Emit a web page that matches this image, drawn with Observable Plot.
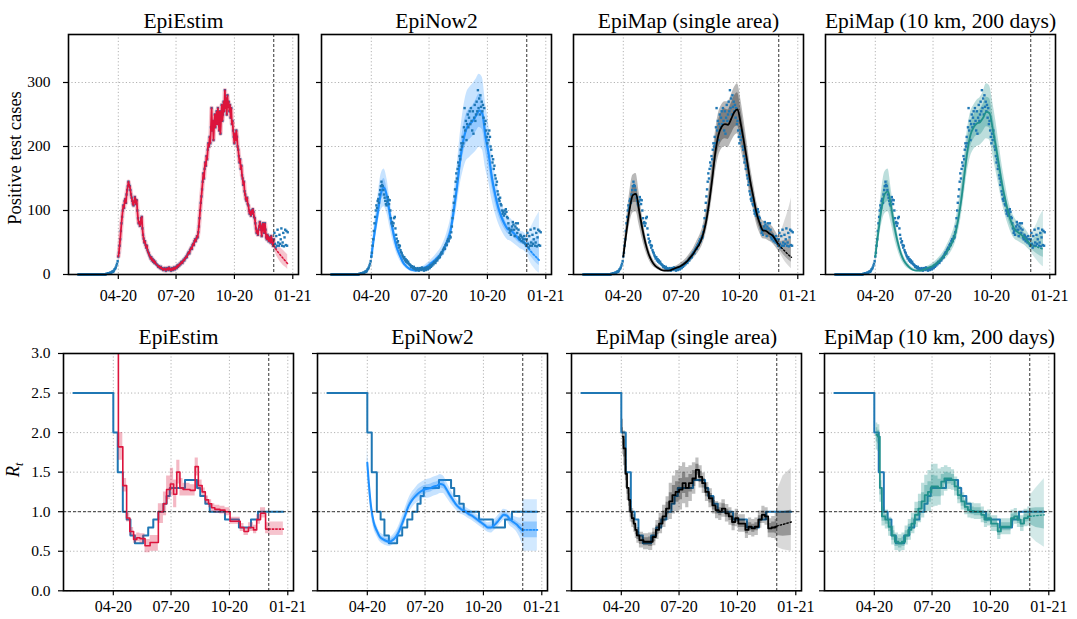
<!DOCTYPE html>
<html><head><meta charset="utf-8">
<script src="https://cdn.jsdelivr.net/npm/d3@7"></script>
<script src="https://cdn.jsdelivr.net/npm/@observablehq/plot@0.6"></script>
<style>
html,body{margin:0;padding:0;background:#fff;}
#chart{position:relative;width:1077px;height:619px;overflow:hidden;font-family:"Liberation Serif","Times New Roman",serif;}
#chart svg{position:absolute;overflow:visible;}
#chart svg text{font-family:"Liberation Serif","Times New Roman",serif !important;font-variant:normal !important;}
.ylab{position:absolute;white-space:nowrap;transform:translate(-50%,-50%) rotate(-90deg);font-family:"Liberation Serif","Times New Roman",serif;font-size:18.5px;line-height:20px;color:#000;}
.ylab sub{font-size:12px;}
</style></head><body><div id="chart">
<div class="ylab" style="left:15px;top:158px;">Positive test cases</div>
<div class="ylab" style="left:16px;top:470px;"><i>R</i><sub><i>t</i></sub></div>
</div>
<script>
// ---------- data (days counted from 2020-04-01) ----------
const titles = ["EpiEstim", "EpiNow2", "EpiMap (single area)", "EpiMap (10 km, 200 days)"];
const xTickDays = [0, 91, 183, 275];
const caseTicks = [0, 100, 200, 300];
const rtTicks = [0, 0.5, 1.0, 1.5, 2.0, 2.5, 3.0];
const forecastStartDay = 245;

// observed daily positive test cases, from day -63 (2020-01-29) to day 267
const casesStartDay = -63;
const observedCases = [
 0,0,0,0,0,0,0,0,0,0,0,0,0,0,0,0,0,0,0,0,0,0,0,0,0,0,0,0,0,0,0,0,0,0,0,0,0,0,0,0,0,0,0,0,
 1,1,1,2,1,2,3,2,3,4,5,4,6,8,9,11,14,17,21,
 28,34,45,55,68,80,90,100,108,104,115,118,112,125,132,138,145,140,138,132,125,120,115,110,108,114,121,117,110,116,
 100,88,80,82,76,80,88,90,72,62,56,50,52,46,42,45,38,35,33,30,28,25,27,22,24,20,22,18,20,17,16,
 15,14,12,13,11,10,12,9,10,8,7,9,10,8,6,8,10,9,7,11,8,9,6,8,10,7,9,11,8,10,
 12,10,14,12,15,14,17,16,19,20,18,21,23,22,25,26,28,27,31,33,35,33,38,40,42,40,46,48,46,52,55,
 52,56,60,58,66,75,88,100,112,122,133,145,158,150,165,175,170,185,180,195,205,200,215,205,230,260,225,240,210,235,250,
 230,245,255,235,260,240,225,255,220,245,265,240,250,270,255,288,260,275,250,280,262,270,255,265,245,260,235,240,225,215,
 205,220,210,225,215,200,195,185,175,180,165,170,155,150,140,145,130,125,118,115,120,110,108,100,95,98,92,100,95,102,98,
 90,88,80,72,65,68,62,70,75,82,78,70,60,75,80,72,65,80,70,58,55,62,60,52,58,55,50,60,55,48,
 45,55,65,48,42,60,45,70,50,45,62,48,55,72,45,50,65,44,58,70,46,68,45,66
];

// EpiEstim case projection [day, lo, mid, hi]
const epiestimCaseProj = [[245,40,45,50],[250,28,37,46],[255,20,31,42],[260,14,25,38],[265,10,19,33],[267,8,17,31]];

// model fits of cases, every 5 days from day 0 to 245
const epinow2Mid  = [27,64,95,126,136,120,90,64,43,30,19,13,9,7,6,7,9,11,14,18,22,27,32,41,53,69,100,136,178,209,228,235,240,248,256,251,215,188,152,126,105,90,79,71,69,64,58,53,51,45];
const epinow2Hi90 = [35,80,118,155,165,148,112,80,55,39,26,18,13,10,9,10,12,15,19,24,29,35,42,53,68,88,125,168,218,258,283,292,298,305,313,308,268,235,190,158,132,113,100,90,87,81,74,68,66,60];
const epinow2Lo90 = [20,50,75,100,106,94,70,49,33,22,14,9,6,4,4,5,6,8,10,13,16,20,24,31,40,53,78,106,140,163,178,183,188,193,199,195,166,145,117,97,81,69,60,54,52,48,44,40,38,33];
const epinow2Hi50 = [30,71,105,139,150,132,99,71,48,33,21,14,10,8,7,8,10,12,16,20,24,30,35,45,58,76,110,150,196,230,251,259,264,273,282,276,237,207,167,139,116,99,87,78,76,70,64,58,56,50];
const epinow2Lo50 = [24,57,85,113,122,108,81,57,38,27,17,12,8,6,5,6,8,10,12,16,20,24,29,37,48,62,90,122,160,188,205,211,216,223,230,226,193,169,137,113,94,81,71,64,62,58,52,48,46,40];

const epimapMid  = [28,67,102,124,126,100,72,49,32,21,14,10,7,6,6,7,9,11,13,16,20,26,32,40,48,60,80,110,148,190,218,231,235,234,243,254,258,236,208,178,146,121,96,80,69,68,64,61,54,46];
const epimapHi90 = [36,85,128,155,158,128,92,63,42,28,19,14,10,9,9,10,12,14,17,21,26,33,40,50,60,74,98,132,175,222,252,265,270,270,280,292,298,275,243,208,172,143,115,96,84,82,78,75,67,58];
const epimapLo90 = [21,50,78,96,98,77,55,37,24,15,10,7,5,4,4,5,6,8,9,11,15,19,24,30,37,47,63,88,120,158,184,196,200,198,207,216,220,199,175,150,122,101,79,65,56,55,52,49,43,36];
const epimapHi50 = [31,74,112,137,139,110,79,54,35,23,15,11,8,7,7,8,10,12,14,18,22,29,35,44,53,66,88,121,163,209,240,254,259,257,267,279,284,260,229,196,161,133,106,88,76,75,70,67,59,51];
const epimapLo50 = [25,60,92,112,113,90,65,44,29,19,13,9,6,5,5,6,8,10,12,14,18,23,29,36,43,54,72,99,133,171,196,208,212,211,219,229,232,212,187,160,131,109,86,72,62,61,58,55,49,41];

const epimap10Mid  = [28,68,104,126,130,106,76,52,34,22,15,10,7,6,6,7,9,11,13,16,20,25,31,39,48,60,82,113,152,192,218,230,236,238,245,254,252,228,200,170,140,116,95,80,70,66,62,58,52,46];
const epimap10Hi90 = [37,88,132,160,165,134,96,66,43,29,20,14,10,9,9,10,12,14,17,21,26,32,40,50,61,76,102,138,180,225,253,264,272,276,285,298,295,270,240,205,170,142,116,99,88,82,78,73,66,58];
const epimap10Lo90 = [21,50,78,95,98,80,57,39,25,16,10,7,5,4,4,5,6,8,9,11,15,19,23,29,36,46,63,88,123,160,184,195,200,202,207,212,210,188,162,137,112,92,76,63,55,52,49,46,41,36];
const epimap10Hi50 = [32,77,117,142,147,119,85,58,38,25,17,12,8,7,7,8,10,12,15,18,23,28,35,44,54,67,91,125,167,210,237,249,255,258,266,277,275,250,220,188,155,128,105,89,78,74,69,65,58,51];
const epimap10Lo50 = [25,59,91,110,114,93,67,46,30,19,13,9,6,5,5,6,8,10,11,14,17,22,27,34,42,53,72,100,136,174,199,211,217,218,224,231,229,206,180,152,125,104,85,71,62,58,55,51,46,41];

// case projections: [day, lo90, lo50, mid, hi50, hi90]
const epinow2CaseProj  = [[245,33,40,45,50,60],[250,20,30,38,52,70],[255,12,24,32,55,80],[260,6,18,27,58,90],[265,2,14,22,60,98]];
const epimapCaseProj   = [[245,36,41,46,51,58],[250,28,34,41,52,70],[255,20,28,36,53,85],[260,14,23,31,54,100],[265,9,19,27,56,120]];
const epimap10CaseProj = [[245,36,41,46,51,58],[250,28,36,44,55,70],[255,22,32,43,60,80],[260,16,29,41,64,92],[265,12,27,40,68,100]];

// true reproduction number: [start day, value]
const trueRt = [[-63,2.5],[0,2.0],[7,1.5],[15,1.0],[21,0.9],[27,0.7],[34,0.6],[47,0.7],[55,0.8],[63,0.9],[71,1.0],[79,1.1],[84,1.2],[89,1.3],[113,1.4],[132,1.3],[137,1.2],[145,1.1],[152,1.0],[176,0.9],[198,0.8],[217,0.9],[228,1.0],[268,1.0]];

// EpiEstim Rt: [start day, lo, mid, hi]
const epiestimRt = [[2,4.0,4.5,5.0],[8,1.65,1.82,2.0],[15,1.25,1.33,1.42],[21,0.87,0.92,0.98],[26,0.70,0.75,0.80],[32,0.60,0.65,0.71],[37,0.62,0.67,0.73],[42,0.60,0.66,0.72],[50,0.48,0.57,0.65],[58,0.50,0.61,0.70],[71,0.85,1.0,1.10],[79,0.95,1.10,1.25],[84,1.15,1.28,1.45],[90,1.20,1.35,1.55],[95,1.05,1.22,1.40],[100,1.35,1.50,1.65],[105,1.20,1.30,1.42],[110,1.20,1.28,1.36],[121,1.20,1.27,1.34],[129,1.45,1.57,1.68],[134,1.27,1.33,1.40],[140,1.20,1.25,1.30],[145,1.10,1.15,1.20],[150,1.05,1.10,1.15],[155,1.00,1.05,1.10],[160,0.98,1.03,1.08],[168,0.97,1.02,1.07],[176,0.95,1.00,1.05],[184,0.84,0.88,0.93],[192,0.84,0.88,0.93],[200,0.75,0.80,0.85],[206,0.70,0.75,0.80],[213,0.75,0.80,0.86],[221,0.72,0.77,0.83],[226,0.84,0.90,0.96],[232,0.92,0.98,1.05],[240,0.72,0.78,0.86],[245,0.72,0.78,0.86]];
const epiestimRtProj = [[245,0.70,0.78,0.87],[268,0.70,0.78,0.87]];

// EpiNow2 Rt, every 5 days from day 0 to 245
const epinow2RtMid  = [1.62,1.13,0.87,0.76,0.68,0.65,0.63,0.62,0.64,0.68,0.75,0.85,0.96,1.07,1.14,1.19,1.23,1.26,1.28,1.29,1.30,1.32,1.33,1.35,1.34,1.28,1.21,1.15,1.09,1.05,1.02,1.00,0.97,0.95,0.92,0.89,0.86,0.83,0.80,0.80,0.83,0.87,0.92,0.96,0.95,0.90,0.87,0.84,0.80,0.76];
const epinow2RtHi90 = [1.80,1.25,0.95,0.83,0.74,0.71,0.69,0.68,0.70,0.75,0.83,0.94,1.05,1.16,1.24,1.29,1.34,1.37,1.39,1.41,1.42,1.44,1.45,1.47,1.45,1.38,1.30,1.23,1.16,1.12,1.08,1.06,1.03,1.01,0.98,0.95,0.92,0.89,0.86,0.87,0.90,0.94,0.99,1.03,1.02,0.98,0.95,0.93,0.92,0.95];
const epinow2RtLo90 = [1.45,1.02,0.79,0.69,0.62,0.59,0.57,0.56,0.58,0.61,0.67,0.76,0.87,0.98,1.04,1.09,1.12,1.15,1.17,1.17,1.18,1.20,1.21,1.23,1.23,1.18,1.12,1.07,1.02,0.98,0.96,0.94,0.91,0.89,0.86,0.83,0.80,0.77,0.74,0.73,0.76,0.80,0.85,0.89,0.88,0.82,0.79,0.75,0.68,0.58];
const epinow2RtHi50 = [1.70,1.18,0.91,0.80,0.71,0.68,0.66,0.65,0.67,0.71,0.79,0.89,1.00,1.11,1.18,1.23,1.28,1.31,1.33,1.34,1.35,1.37,1.38,1.40,1.39,1.32,1.25,1.19,1.12,1.08,1.05,1.03,1.00,0.98,0.95,0.92,0.89,0.86,0.83,0.83,0.86,0.90,0.95,0.99,0.98,0.94,0.91,0.88,0.85,0.83];
const epinow2RtLo50 = [1.54,1.08,0.83,0.72,0.65,0.62,0.60,0.59,0.61,0.65,0.71,0.81,0.92,1.03,1.10,1.15,1.18,1.21,1.23,1.24,1.25,1.27,1.28,1.30,1.29,1.24,1.17,1.11,1.06,1.02,0.99,0.97,0.94,0.92,0.89,0.86,0.83,0.80,0.77,0.77,0.80,0.84,0.89,0.93,0.92,0.86,0.83,0.80,0.75,0.69];
const epinow2RtProj = [[245,0.50,0.67,0.77,0.87,1.15],[268,0.50,0.67,0.77,0.87,1.15]];

// EpiMap Rt: [day, lo90, lo50, mid, hi50, hi90]
const epimapRt = [[2,1.72,1.84,1.95,2.06,2.17],[5,1.58,1.69,1.80,1.91,2.02],[8,1.30,1.39,1.48,1.57,1.66],[10,1.14,1.22,1.30,1.38,1.46],[13,1.00,1.07,1.15,1.23,1.30],[15,0.87,0.93,1.00,1.07,1.13],[18,0.80,0.86,0.92,0.98,1.04],[21,0.74,0.79,0.85,0.91,0.96],[23,0.66,0.71,0.77,0.83,0.88],[26,0.60,0.65,0.70,0.75,0.80],[31,0.54,0.59,0.64,0.69,0.74],[39,0.52,0.57,0.62,0.67,0.72],[47,0.51,0.56,0.62,0.68,0.73],[52,0.57,0.62,0.68,0.74,0.79],[57,0.65,0.71,0.77,0.83,0.89],[62,0.72,0.78,0.85,0.92,0.98],[68,0.80,0.87,0.94,1.01,1.08],[73,0.89,0.96,1.04,1.12,1.19],[78,0.90,1.02,1.13,1.24,1.36],[83,0.97,1.09,1.21,1.33,1.45],[88,1.00,1.12,1.25,1.38,1.52],[94,1.02,1.15,1.28,1.42,1.57],[99,1.10,1.23,1.36,1.50,1.62],[104,1.05,1.18,1.30,1.43,1.56],[109,1.13,1.25,1.36,1.47,1.58],[115,1.22,1.32,1.42,1.52,1.62],[120,1.38,1.46,1.53,1.60,1.68],[125,1.30,1.37,1.44,1.51,1.58],[130,1.23,1.30,1.36,1.42,1.49],[135,1.13,1.19,1.25,1.31,1.37],[141,1.05,1.11,1.17,1.23,1.29],[146,0.97,1.02,1.08,1.14,1.19],[151,0.91,0.97,1.02,1.07,1.13],[156,0.89,0.95,1.00,1.05,1.11],[161,0.93,0.98,1.04,1.10,1.15],[167,0.87,0.93,0.98,1.03,1.09],[172,0.83,0.89,0.94,0.99,1.05],[177,0.76,0.82,0.87,0.92,0.98],[182,0.81,0.86,0.92,0.98,1.03],[187,0.74,0.80,0.85,0.90,0.96],[193,0.74,0.80,0.85,0.90,0.96],[198,0.66,0.72,0.77,0.82,0.88],[203,0.70,0.76,0.81,0.86,0.92],[208,0.68,0.74,0.79,0.84,0.90],[213,0.70,0.76,0.81,0.86,0.92],[219,0.79,0.85,0.90,0.95,1.01],[224,0.85,0.91,0.96,1.01,1.07],[229,0.83,0.89,0.94,0.99,1.05],[234,0.67,0.73,0.79,0.85,0.91],[240,0.66,0.73,0.80,0.87,0.94],[245,0.64,0.72,0.81,0.90,0.98]];
const epimapRtProj = [[245,0.55,0.70,0.82,0.98,1.25],[255,0.52,0.69,0.84,1.00,1.45],[268,0.50,0.70,0.87,1.02,1.55]];

const epimap10Rt = [[3,1.78,1.88,1.97,2.06,2.12],[8,1.76,1.86,1.95,2.03,2.10],[9.5,1.12,1.21,1.30,1.39,1.47],[14.5,0.82,0.88,0.94,1.00,1.06],[20,0.78,0.84,0.90,0.96,1.02],[25,0.69,0.75,0.81,0.87,0.93],[30,0.58,0.64,0.70,0.76,0.82],[35,0.51,0.56,0.62,0.68,0.73],[41,0.49,0.54,0.60,0.66,0.71],[46,0.51,0.56,0.62,0.68,0.73],[51,0.58,0.64,0.70,0.76,0.82],[56,0.64,0.70,0.77,0.84,0.90],[61,0.72,0.78,0.85,0.92,0.98],[67,0.80,0.88,0.96,1.04,1.12],[72,0.86,0.95,1.04,1.13,1.22],[77,0.92,1.02,1.13,1.24,1.36],[82,0.98,1.09,1.21,1.33,1.46],[87,1.00,1.12,1.25,1.38,1.52],[93,1.06,1.19,1.32,1.46,1.60],[98,1.07,1.19,1.32,1.45,1.60],[103,1.08,1.19,1.30,1.41,1.54],[108,1.20,1.29,1.38,1.47,1.56],[113,1.26,1.34,1.42,1.50,1.58],[119,1.28,1.35,1.42,1.49,1.56],[124,1.27,1.33,1.40,1.47,1.53],[129,1.20,1.26,1.32,1.38,1.44],[134,1.10,1.15,1.21,1.27,1.32],[140,1.02,1.07,1.13,1.19,1.24],[145,0.96,1.01,1.06,1.11,1.16],[150,0.92,0.97,1.02,1.07,1.12],[155,0.91,0.96,1.01,1.06,1.11],[160,0.90,0.95,1.00,1.05,1.10],[166,0.90,0.95,1.00,1.05,1.10],[171,0.86,0.91,0.96,1.01,1.06],[176,0.80,0.85,0.90,0.95,1.00],[181,0.82,0.87,0.92,0.97,1.02],[187,0.75,0.80,0.85,0.90,0.95],[192,0.75,0.80,0.85,0.90,0.95],[197,0.65,0.70,0.75,0.80,0.85],[202,0.71,0.76,0.81,0.86,0.91],[207,0.71,0.76,0.81,0.86,0.91],[213,0.71,0.76,0.81,0.86,0.91],[218,0.82,0.87,0.92,0.97,1.02],[223,0.84,0.89,0.94,0.99,1.04],[228,0.80,0.85,0.90,0.95,1.00],[233,0.75,0.80,0.85,0.90,0.95],[239,0.81,0.87,0.92,0.97,1.03],[245,0.82,0.88,0.94,1.00,1.06]];
const epimap10RtProj = [[245,0.70,0.84,0.94,1.04,1.20],[255,0.62,0.80,0.95,1.05,1.30],[268,0.55,0.78,0.96,1.05,1.42]];

// ---------- helpers ----------
const FONT = '"Liberation Serif","Times New Roman",serif';
const C_OBS = "#1f77b4", C_RED = "#dc143c", C_NOW = "#1e90ff", C_MAP = "#000000", C_TEAL = "#21918c";
const T0 = Date.UTC(2020, 3, 1);
const day = d => new Date(T0 + d * 864e5);
const xTicks = xTickDays.map(day);
const xDomain = [day(-78.5), day(284)];
const fmtX = d3.utcFormat("%m-%y");

const obsRows = observedCases.map((v, i) => ({date: day(casesStartDay + i), d: casesStartDay + i, mid: v}));
const gridRows = (mid, lo90, lo50, hi50, hi90) => mid.map((m, i) => ({date: day(i * 5), mid: m, lo90: lo90[i], lo50: lo50[i], hi50: hi50[i], hi90: hi90[i]}));
const tupRows = t => t.map(([d, lo90, lo50, mid, hi50, hi90]) => ({date: day(d), lo90, lo50, mid, hi50, hi90}));
const tup3Rows = t => t.map(([d, lo, mid, hi]) => ({date: day(d), lo, mid, hi}));

function bands(rows, color, o90, o50, curve) {
  return [
    Plot.areaY(rows, {x: "date", y1: "lo90", y2: "hi90", fill: color, fillOpacity: o90, curve, clip: true}),
    Plot.areaY(rows, {x: "date", y1: "lo50", y2: "hi50", fill: color, fillOpacity: o50, curve, clip: true})
  ];
}
function midLine(rows, color, w, curve, dash) {
  return Plot.line(rows, {x: "date", y: "mid", stroke: color, strokeWidth: w, curve, strokeDasharray: dash, clip: true});
}

const W = 230;
const chart = document.getElementById("chart");
function panel({left, top, h, yDomain, yTicks, yFmt, showY, title, marks, titleDy, xPad, yPad, extra = []}) {
  const mL = 62, mR = 8, mT = 40, mB = 34;
  const svg = Plot.plot({
    width: mL + W + mR, height: mT + h + mB,
    marginLeft: mL, marginRight: mR, marginTop: mT, marginBottom: mB,
    style: {fontFamily: FONT, fontSize: "15px", color: "black", background: "transparent", overflow: "visible"},
    x: {type: "utc", domain: xDomain},
    y: {domain: yDomain},
    marks: [
      Plot.gridX(xTicks, {stroke: "#b3b3b3", strokeOpacity: 1, strokeDasharray: "1.2,2.2", strokeWidth: 1}),
      Plot.gridY(yTicks, {stroke: "#b3b3b3", strokeOpacity: 1, strokeDasharray: "1.2,2.2", strokeWidth: 1}),
      ...marks,
      Plot.ruleX([day(forecastStartDay)], {stroke: "#333", strokeDasharray: "3,2", strokeWidth: 1}),
      ...extra,
      Plot.axisX(xTicks, {tickFormat: fmtX, tickSize: 5, tickPadding: xPad, strokeWidth: 1.2, fontSize: 16, fontFamily: FONT, fill: "black", label: null}),
      Plot.axisY(yTicks, {tickFormat: showY ? yFmt : () => "", tickSize: 5, tickPadding: yPad, strokeWidth: 1.2, fontSize: 15.5, fontFamily: FONT, fill: "black", label: null}),
      Plot.frame({stroke: "black", strokeWidth: 1.6}),
      Plot.text([title], {text: d => d, frameAnchor: "top", lineAnchor: "bottom", dy: titleDy, fontSize: 21.5, fontFamily: FONT, fill: "black"})
    ]
  });
  svg.style.left = (left - mL) + "px";
  svg.style.top = (top - mT) + "px";
  chart.appendChild(svg);
}

// ---------- top row: cases ----------
const topLefts = [68, 320.5, 572.7, 825];
const dots = () => Plot.dot(obsRows, {x: "date", y: "mid", symbol: "square", r: 1.35, fill: C_OBS, stroke: "none"});
const redRows = obsRows.filter(r => r.d >= 0 && r.d <= forecastStartDay);
const topMarks = [
  [
    Plot.line(redRows, {x: "date", y: "mid", stroke: C_RED, strokeOpacity: 0.25, strokeWidth: 4.5}),
    Plot.areaY(tup3Rows(epiestimCaseProj), {x: "date", y1: "lo", y2: "hi", fill: C_RED, fillOpacity: 0.25}),
    dots(),
    Plot.line(redRows, {x: "date", y: "mid", stroke: C_RED, strokeWidth: 1.8}),
    midLine(tup3Rows(epiestimCaseProj), C_RED, 1.5, "linear", "1.5,2")
  ],
  [
    ...bands(gridRows(epinow2Mid, epinow2Lo90, epinow2Lo50, epinow2Hi50, epinow2Hi90), C_NOW, 0.25, 0.3, "monotone-x"),
    ...bands(tupRows(epinow2CaseProj), C_NOW, 0.18, 0.25, "monotone-x"),
    midLine(gridRows(epinow2Mid, epinow2Lo90, epinow2Lo50, epinow2Hi50, epinow2Hi90), C_NOW, 2.2, "monotone-x"),
    midLine(tupRows(epinow2CaseProj), C_NOW, 1.8, "monotone-x", "1.5,2"),
    dots()
  ],
  [
    ...bands(gridRows(epimapMid, epimapLo90, epimapLo50, epimapHi50, epimapHi90), C_MAP, 0.28, 0.3, "monotone-x"),
    ...bands(tupRows(epimapCaseProj), C_MAP, 0.15, 0.25, "monotone-x"),
    dots(),
    midLine(gridRows(epimapMid, epimapLo90, epimapLo50, epimapHi50, epimapHi90), C_MAP, 1.8, "monotone-x"),
    midLine(tupRows(epimapCaseProj), C_MAP, 1.4, "monotone-x", "1.5,2")
  ],
  [
    ...bands(gridRows(epimap10Mid, epimap10Lo90, epimap10Lo50, epimap10Hi50, epimap10Hi90), C_TEAL, 0.3, 0.35, "monotone-x"),
    ...bands(tupRows(epimap10CaseProj), C_TEAL, 0.2, 0.3, "monotone-x"),
    dots(),
    midLine(gridRows(epimap10Mid, epimap10Lo90, epimap10Lo50, epimap10Hi50, epimap10Hi90), C_TEAL, 1.8, "monotone-x"),
    midLine(tupRows(epimap10CaseProj), C_TEAL, 1.4, "monotone-x", "1.5,2")
  ]
];
topMarks.forEach((marks, i) => panel({
  left: topLefts[i], top: 34, h: 240, yDomain: [0, 375], yTicks: caseTicks, yFmt: d3.format("d"),
  showY: i === 0, title: titles[i], marks, titleDy: -7, xPad: 10, yPad: 13
}));

// ---------- bottom row: Rt ----------
const botLefts = [63.3, 316.7, 571.3, 824];
const trueRows = trueRt.map(([d, v]) => ({date: day(d), mid: v}));
const trueLine = () => Plot.line(trueRows, {x: "date", y: "mid", curve: "step-after", stroke: C_OBS, strokeWidth: 2});
const oneRule = Plot.ruleY([1], {stroke: "#222", strokeDasharray: "3,2", strokeWidth: 0.9});
const botMarks = [
  [
    trueLine(),
    Plot.areaY(tup3Rows(epiestimRt), {x: "date", y1: "lo", y2: "hi", fill: C_RED, fillOpacity: 0.3, curve: "step-after", clip: true}),
    Plot.areaY(tup3Rows(epiestimRtProj), {x: "date", y1: "lo", y2: "hi", fill: C_RED, fillOpacity: 0.25}),
    midLine(tup3Rows(epiestimRt), C_RED, 1.6, "step-after"),
    midLine(tup3Rows(epiestimRtProj), C_RED, 1.6, "linear", "1.5,2")
  ],
  [
    trueLine(),
    ...bands(gridRows(epinow2RtMid, epinow2RtLo90, epinow2RtLo50, epinow2RtHi50, epinow2RtHi90), C_NOW, 0.25, 0.3, "monotone-x"),
    ...bands(tupRows(epinow2RtProj), C_NOW, 0.2, 0.35, "linear"),
    midLine(gridRows(epinow2RtMid, epinow2RtLo90, epinow2RtLo50, epinow2RtHi50, epinow2RtHi90), C_NOW, 2, "monotone-x"),
    midLine(tupRows(epinow2RtProj), C_NOW, 1.8, "linear", "1.5,2")
  ],
  [
    trueLine(),
    ...bands(tupRows(epimapRt), C_MAP, 0.25, 0.3, "step"),
    ...bands(tupRows(epimapRtProj), C_MAP, 0.15, 0.3, "linear"),
    midLine(tupRows(epimapRt), C_MAP, 1.8, "step"),
    midLine(tupRows(epimapRtProj), C_MAP, 1.4, "linear", "1.5,2")
  ],
  [
    trueLine(),
    ...bands(tupRows(epimap10Rt), C_TEAL, 0.3, 0.35, "step"),
    ...bands(tupRows(epimap10RtProj), C_TEAL, 0.2, 0.35, "linear"),
    midLine(tupRows(epimap10Rt), C_TEAL, 1.8, "step"),
    midLine(tupRows(epimap10RtProj), C_TEAL, 1.4, "linear", "1.5,2")
  ]
];
botMarks.forEach((marks, i) => panel({
  left: botLefts[i], top: 352.7, h: 237.3, yDomain: [0, 3], yTicks: rtTicks, yFmt: d3.format(".1f"),
  showY: i === 0, title: titles[i], marks, titleDy: -9, xPad: 5, yPad: 8, extra: [oneRule]
}));
</script></body></html>
